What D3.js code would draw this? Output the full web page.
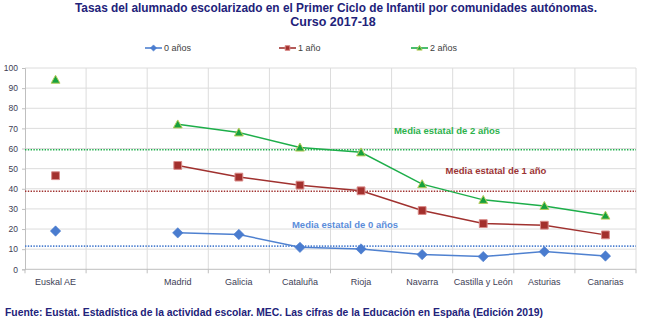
<!DOCTYPE html>
<html>
<head>
<meta charset="utf-8">
<script src="https://cdn.jsdelivr.net/npm/d3@7"></script>
<style>
  html, body { margin: 0; padding: 0; background: #fff; }
  svg { display: block; }
  text { font-family: "Liberation Sans", Arial, sans-serif; }
</style>
</head>
<body>
<svg id="chart" width="658" height="334"></svg>
<script>
// Categories (the empty slot separates Euskal AE from the rest)
const categories = ["Euskal AE", "", "Madrid", "Galicia", "Cataluña", "Rioja", "Navarra", "Castilla y León", "Asturias", "Canarias"];

// Enrolment rates per age (%)
const edad0 = [19.0, null, 18.1, 17.3, 10.9, 10.1, 7.3, 6.3, 8.8, 6.6];
const edad1 = [46.5, null, 51.6, 45.8, 41.8, 39.0, 29.2, 22.7, 21.9, 17.1];
const edad2 = [94.2, null, 72.0, 68.0, 60.5, 58.1, 42.3, 34.5, 31.5, 26.7];

// State averages
const mediaEstatal = [11.5, 38.8, 59.4];
const mediaLabels = ["Media estatal de 0 años", "Media estatal de 1 año", "Media estatal de 2 años"];

const seriesNames = ["0 años", "1 año", "2 años"];
const yTicks = [0, 10, 20, 30, 40, 50, 60, 70, 80, 90, 100];

const titleLines = [
  "Tasas del alumnado escolarizado en el Primer Ciclo de Infantil por comunidades autónomas.",
  "Curso 2017-18"
];
const fuente = "Fuente: Eustat. Estadística de la actividad escolar. MEC. Las cifras de la Educación en España (Edición 2019)";

const series = [
  { name: seriesNames[0], values: edad0, color: "#4F81D0", marker: "diamond", fill: "#4A7CCF", stroke: "#4A7CCF", label: mediaLabels[0], mean: mediaEstatal[0], labelColor: "#5B8DDA", lx: 345, ly: 225 },
  { name: seriesNames[1], values: edad1, color: "#A0312F", marker: "square", fill: "#A3302D", stroke: "#D98A88", label: mediaLabels[1], mean: mediaEstatal[1], labelColor: "#9C3434", lx: 496, ly: 171 },
  { name: seriesNames[2], values: edad2, color: "#1DAE4A", marker: "triangle", fill: "#17A13E", stroke: "#B5CC5A", label: mediaLabels[2], mean: mediaEstatal[2], labelColor: "#2DB24C", lx: 447, ly: 131 }
];

const svg = d3.select("#chart");
const plotLeft = 25, plotRight = 636, plotTop = 68, plotBottom = 269.3;

const x = d3.scaleBand().domain(d3.range(categories.length)).range([plotLeft, plotRight]).padding(0);
const y = d3.scaleLinear().domain([0, 100]).range([plotBottom, plotTop]);
const cx = i => x(i) + x.bandwidth() / 2;

// Title
const title = svg.append("g").attr("fill", "#22227A").attr("font-weight", "bold").attr("text-anchor", "middle");
title.append("text").attr("x", 336).attr("y", 12).attr("font-size", 12.5)
  .attr("textLength", 522).attr("lengthAdjust", "spacingAndGlyphs").text(titleLines[0]);
title.append("text").attr("x", 333).attr("y", 26).attr("font-size", 12.5).text(titleLines[1]);

// Gridlines
const grid = svg.append("g").attr("stroke", "#DCDCDC").attr("stroke-width", 1);
grid.selectAll("line.h").data(yTicks.filter(d => d > 0)).join("line")
  .attr("x1", plotLeft).attr("x2", plotRight).attr("y1", d => y(d)).attr("y2", d => y(d));
grid.selectAll("line.v").data(d3.range(1, categories.length + 1)).join("line")
  .attr("x1", i => plotLeft + i * x.bandwidth()).attr("x2", i => plotLeft + i * x.bandwidth())
  .attr("y1", plotTop).attr("y2", plotBottom);

// Y axis
const yAxis = d3.axisLeft(y).tickValues(yTicks).tickSize(3).tickPadding(4);
const gy = svg.append("g").attr("transform", `translate(${plotLeft},0)`).call(yAxis);
gy.select(".domain").attr("stroke", "#BFBFBF");
gy.selectAll(".tick line").attr("stroke", "#BFBFBF");
gy.selectAll(".tick text").attr("font-size", 8.5).attr("fill", "#404055")
  .attr("font-family", "'Liberation Sans', Arial, sans-serif");

// X axis with ticks between categories
const gx = svg.append("g").attr("transform", `translate(0,${plotBottom})`);
gx.append("line").attr("x1", plotLeft).attr("x2", plotRight).attr("stroke", "#BFBFBF");
gx.selectAll("line.t").data(d3.range(0, categories.length + 1)).join("line")
  .attr("x1", i => plotLeft + i * x.bandwidth()).attr("x2", i => plotLeft + i * x.bandwidth())
  .attr("y1", 0).attr("y2", 4).attr("stroke", "#BFBFBF");
gx.selectAll("text").data(categories).join("text")
  .attr("x", (d, i) => cx(i)).attr("y", 16).attr("text-anchor", "middle")
  .attr("font-size", 9).attr("fill", "#404055").text(d => d);

// State average lines (dotted) and their labels
series.forEach(s => {
  svg.append("line").attr("x1", plotLeft).attr("x2", plotRight)
    .attr("y1", y(s.mean)).attr("y2", y(s.mean))
    .attr("stroke", s.color).attr("stroke-width", 1.6).attr("stroke-dasharray", "1.4,1.4");
  svg.append("text").attr("x", s.lx).attr("y", s.ly + 3).attr("text-anchor", "middle")
    .attr("font-size", 9.5).attr("font-weight", "bold").attr("fill", s.labelColor).text(s.label);
});

// Marker shapes: a square diamond, a square and a triangle
function markerPath(kind, r) {
  if (kind === "diamond") return `M0,${-r}L${r},0L0,${r}L${-r},0Z`;
  if (kind === "square") { const h = r * 0.75; return `M${-h},${-h}H${h}V${h}H${-h}Z`; }
  const h = r * 0.85;
  return `M0,${-h}L${h},${h * 0.8}L${-h},${h * 0.8}Z`;
}

function drawMarker(g, s, px, py, scale) {
  g.append("path")
    .attr("d", markerPath(s.marker, 5.2 * scale))
    .attr("transform", `translate(${px},${py})`)
    .attr("fill", s.fill).attr("stroke", s.stroke).attr("stroke-width", s.marker === "diamond" ? 0.6 : 1);
}

// Series lines and markers
const line = d3.line().defined(d => d.v !== null).x(d => cx(d.i)).y(d => y(d.v));
series.forEach(s => {
  const pts = s.values.map((v, i) => ({ i, v }));
  svg.append("path").datum(pts).attr("d", line).attr("fill", "none")
    .attr("stroke", s.color).attr("stroke-width", 1.5);
  const g = svg.append("g");
  pts.filter(p => p.v !== null).forEach(p => drawMarker(g, s, cx(p.i), y(p.v), 1));
});

// Legend
const legendX = [145, 279, 411];
const lg = svg.append("g");
series.forEach((s, k) => {
  const lx = legendX[k], ly = 48;
  lg.append("line").attr("x1", lx).attr("x2", lx + 17).attr("y1", ly).attr("y2", ly)
    .attr("stroke", s.color).attr("stroke-width", 1.6);
  drawMarker(lg, s, lx + 8.5, ly, 0.6);
  lg.append("text").attr("x", lx + 19).attr("y", ly + 3.2).attr("font-size", 9)
    .attr("fill", "#404040").text(s.name);
});

// Source note
svg.append("text").attr("x", 5).attr("y", 316).attr("font-size", 10).attr("font-weight", "bold")
  .attr("fill", "#22227A").attr("textLength", 538).attr("lengthAdjust", "spacingAndGlyphs").text(fuente);
</script>
</body>
</html>
